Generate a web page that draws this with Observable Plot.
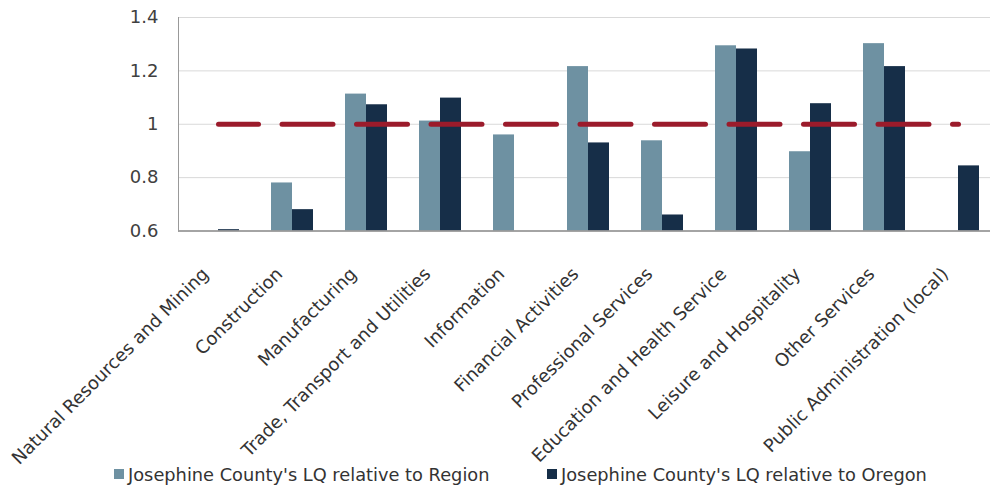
<!DOCTYPE html>
<html>
<head>
<meta charset="utf-8">
<script src="https://cdn.jsdelivr.net/npm/d3@7"></script>
<script src="https://cdn.jsdelivr.net/npm/@observablehq/plot@0.6"></script>
<style>
  html, body { margin: 0; padding: 0; background: #fff; }
  #chart { width: 990px; height: 489px; position: relative; overflow: hidden; font-family: "DejaVu Sans", sans-serif; }
  #chart svg { overflow: visible; display: block; }
  #legend { position: relative; height: 21px; font-size: 17.8px; color: #333; }
  #legend .item { position: absolute; top: -6px; display: flex; align-items: center; height: 24px; white-space: nowrap; }
  #legend .sw { width: 10px; height: 10px; margin-right: 4px; display: inline-block; }
</style>
</head>
<body>
<div id="chart"></div>
<script>
const categories = [
  "Natural Resources and Mining",
  "Construction",
  "Manufacturing",
  "Trade, Transport and Utilities",
  "Information",
  "Financial Activities",
  "Professional Services",
  "Education and Health Service",
  "Leisure and Hospitality",
  "Other Services",
  "Public Administration (local)"
];
const regionLQ = [0.60, 0.78, 1.113, 1.012, 0.96, 1.216, 0.938, 1.294, 0.897, 1.302, 0.60];
const oregonLQ = [0.605, 0.68, 1.073, 1.098, 0.60, 0.93, 0.66, 1.282, 1.077, 1.216, 0.844];
const benchmark = [1, 1, 1, 1, 1, 1, 1, 1, 1, 1, 1];
const yTicks = [0.6, 0.8, 1, 1.2, 1.4];
const seriesNames = ["Josephine County's LQ relative to Region", "Josephine County's LQ relative to Oregon"];
const colors = ["#6e91a2", "#162e48"];

const regionData = categories.map((c, i) => ({cat: c, value: regionLQ[i]}));
const oregonData = categories.map((c, i) => ({cat: c, value: oregonLQ[i]}));
const lineData = categories.map((c, i) => ({cat: c, value: benchmark[i]}));

const plot = Plot.plot({
  width: 990,
  height: 468,
  marginLeft: 178,
  marginRight: 0,
  marginTop: 17,
  marginBottom: 237.5,
  style: {fontFamily: "'DejaVu Sans', sans-serif", background: "#fff"},
  x: {domain: categories, range: [178, 997.5], paddingInner: 0.436, paddingOuter: 0.218, axis: null},
  y: {domain: [0.6, 1.4], axis: null},
  marks: [
    Plot.gridY(yTicks, {stroke: "#d9d9d9", strokeOpacity: 1, strokeWidth: 1}),
    Plot.barY(regionData, {x: "cat", y1: 0.6, y2: "value", fill: colors[0], insetRight: 21}),
    Plot.barY(oregonData, {x: "cat", y1: 0.6, y2: "value", fill: colors[1], insetLeft: 21}),
    Plot.lineY(lineData, {x: "cat", y: "value", stroke: "#9b1b2b", strokeWidth: 5, strokeLinecap: "round", strokeDasharray: "51,23.5", strokeDashoffset: 11}),
    Plot.ruleY([0.6], {stroke: "#8c8c8c", strokeWidth: 1.5}),
    Plot.frame({anchor: "left", stroke: "#999"}),
    Plot.axisY(yTicks, {tickSize: 0, tickPadding: 20, fontSize: 18, fill: "#404040", tickFormat: d3.format("~g"), label: null}),
    Plot.axisX({tickSize: 0, tickPadding: 12, tickRotate: -45, fontSize: 18, fill: "#333", label: null, dx: -13, dy: 28})
  ]
});

const chart = document.getElementById("chart");
chart.appendChild(plot);

const legend = document.createElement("div");
legend.id = "legend";
const lefts = [114, 547];
seriesNames.forEach((name, i) => {
  const item = document.createElement("div");
  item.className = "item";
  item.style.left = lefts[i] + "px";
  const sw = document.createElement("span");
  sw.className = "sw";
  sw.style.background = colors[i];
  const t = document.createElement("span");
  t.textContent = name;
  item.appendChild(sw);
  item.appendChild(t);
  legend.appendChild(item);
});
chart.appendChild(legend);
</script>
</body>
</html>
